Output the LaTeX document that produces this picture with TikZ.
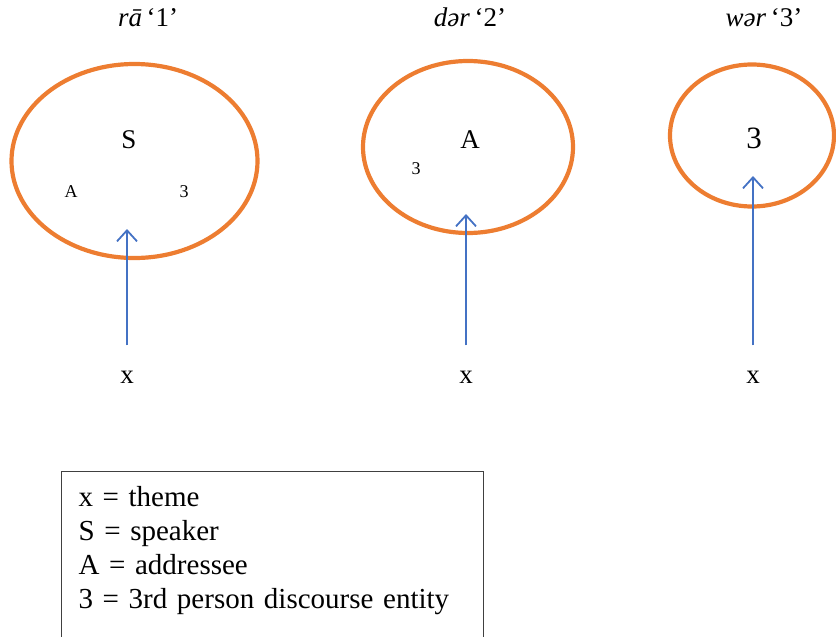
\documentclass[tikz,border=0pt]{standalone}
\usepackage{fontspec}
\setmainfont{Liberation Serif}
\usetikzlibrary{shapes.geometric, arrows.meta}
\definecolor{ringorange}{RGB}{237,125,49}
\definecolor{arrowblue}{RGB}{68,114,196}

\begin{document}
\begin{tikzpicture}[x=1pt, y=-1pt,
    ring/.style={ellipse, draw=ringorange, line width=4.2pt, inner sep=0pt},
    big/.style={font=\fontsize{27}{32}\selectfont, anchor=base, inner sep=0pt},
    small/.style={font=\fontsize{18}{22}\selectfont, anchor=base, inner sep=0pt},
    pointer/.style={draw=arrowblue, line width=1.8pt, shorten <=25pt, -{Straight Barb[length=11pt, width=20pt, line width=1.8pt]}},
    legend/.style={draw=black!75, line width=1pt, anchor=north west, align=left, text width=388pt, inner xsep=17pt, inner ysep=15pt, font=\fontsize{29}{34}\selectfont}
]
    \clip (0,0) rectangle (836,637);

    % Circles
    \node[ring, minimum width=246pt, minimum height=194pt] (ring1) at (134.5,161) {};
    \node[ring, minimum width=210pt, minimum height=172pt] (ring2) at (468,147) {};
    \node[ring, minimum width=164pt, minimum height=142pt] (ring3) at (752,135.5) {};

    % Titles
    \node[big] (title1) at (148,27) {\textit{rā}\,‘1’};
    \node[big] (title2) at (470,27) {\textit{dər}\,‘2’};
    \node[big] (title3) at (764,27) {\textit{wər}\,‘3’};

    % Entities inside the circles
    \node[big] (s1) at (129,148) {S};
    \node[small] (a1) at (71,197) {A};
    \node[small] (three1) at (184,197) {3};
    \node[big] (a2) at (470,148) {A};
    \node[small] (three2) at (416,174) {3};
    \node[big, font=\fontsize{31}{36}\selectfont] (three3) at (754,148) {3};

    % Themes and arrows
    \node[big] (x1) at (127,383) {x};
    \node[big] (x2) at (466,383) {x};
    \node[big] (x3) at (753,383) {x};
    \coordinate (tip1) at (126,229);
    \coordinate (tip2) at (465,214);
    \coordinate (tip3) at (752,176);
    \draw[pointer] (x1.north) -- (x1.north |- tip1);
    \draw[pointer] (x2.north) -- (x2.north |- tip2);
    \draw[pointer] (x3.north) -- (x3.north |- tip3);

    % Legend
    \node[legend] (key) at (61,471) {x = theme\\ S = speaker\\ A = addressee\\ 3 = 3rd person discourse entity\\ \mbox{}};
\end{tikzpicture}
\end{document}
